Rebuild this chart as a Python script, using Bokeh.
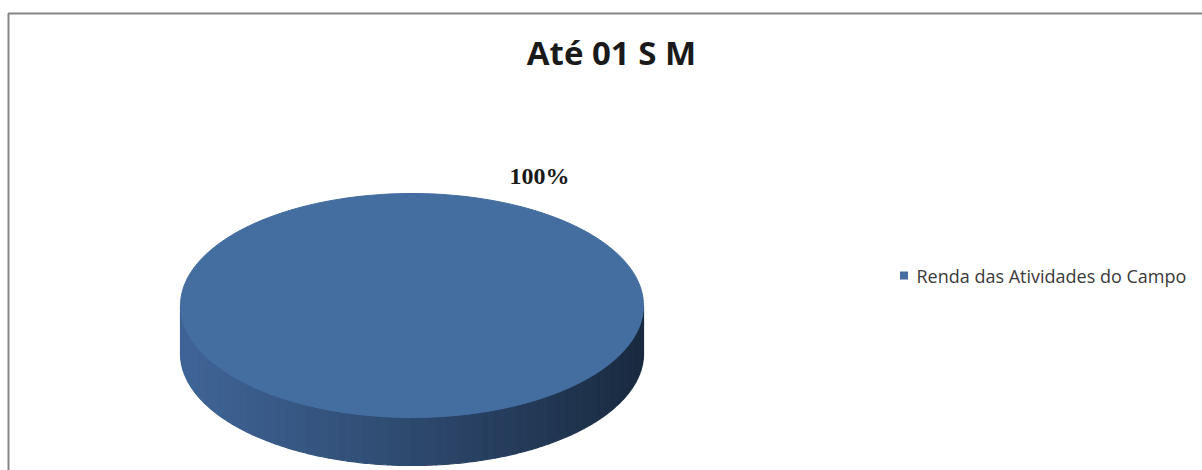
import numpy as np
from bokeh.plotting import figure
from bokeh.models import Range1d
from bokeh.core.properties import value
from bokeh.embed import file_html
from bokeh.resources import INLINE

# ---- data ----
title_text = "Até 01 S M"
categories = ["Renda das Atividades do Campo"]
values = [100]
pct_labels = ["100%"]
colors_top = ["#446DA0"]

W, H = 1202, 470
p = figure(width=W, height=H, x_range=Range1d(0, W), y_range=Range1d(H, 0),
           output_backend="svg", toolbar_location=None, min_border=0)
p.axis.visible = False
p.grid.visible = False
p.outline_line_color = None
p.background_fill_color = "white"
p.border_fill_color = "white"

# chart area border
p.quad(left=[8], right=[1215], top=[13], bottom=[485], fill_color=None,
       line_color="#858585", line_width=2)

# pie geometry (layout)
cx, cy, rx, ry, depth = 411.5, 305.0, 231.5, 112.0, 48.0

def ex(th):
    return cx + rx * np.sin(th)

def ey(th, d=0.0):
    return cy - ry * np.cos(th) + d

total = float(sum(values))
fracs = [v / total for v in values]

def lerp(c1, c2, t):
    a = [int(c1[i:i + 2], 16) for i in (1, 3, 5)]
    b = [int(c2[i:i + 2], 16) for i in (1, 3, 5)]
    return "#%02x%02x%02x" % tuple(int(round(a[k] + (b[k] - a[k]) * t)) for k in range(3))

# side wall (front half) with shading strips
left_c, right_c = "#3F6496", "#192A40"
N = 60
start = 0.0
for i, f in enumerate(fracs):
    a0, a1 = start, start + 2 * np.pi * f
    lo, hi = max(a0, np.pi / 2), min(a1, 3 * np.pi / 2)
    if hi > lo:
        edges = np.linspace(hi, lo, N + 1)
        xs, ys, cs = [], [], []
        for k in range(N):
            t_arc = np.linspace(edges[k], edges[k + 1], 6)
            px = list(ex(t_arc)) + list(ex(t_arc[::-1]))
            py = list(ey(t_arc)) + list(ey(t_arc[::-1], depth))
            xs.append(px); ys.append(py)
            xm = ex((edges[k] + edges[k + 1]) / 2)
            t = (xm - (cx - rx)) / (2 * rx)
            cs.append(lerp(left_c, right_c, min(1, max(0, t ** 1.1))))
        p.patches(xs=xs, ys=ys, fill_color=cs, line_color=cs, line_width=1.2)
    start = a1

# top faces
start = 0.0
for i, f in enumerate(fracs):
    a0, a1 = start, start + 2 * np.pi * f
    th = np.linspace(a0, a1, 241)
    if f < 1:
        px = [cx] + list(ex(th)); py = [cy] + list(ey(th))
    else:
        px = list(ex(th)); py = list(ey(th))
    p.patch(x=px, y=py, fill_color=colors_top[i], line_color=colors_top[i], line_width=1)
    start = a1

# data label
p.text(x=[539], y=[175], text=pct_labels, text_font=value("Liberation Serif"),
       text_font_style="bold", text_font_size="24px", text_color="#1a1a1a",
       text_align="center", text_baseline="middle")

# title
p.text(x=[611], y=[52], text=[title_text], text_font=value("Open Sans"),
       text_font_style="bold", text_font_size="33px", text_color="#1a1a1a",
       text_align="center", text_baseline="middle")

# legend
p.rect(x=[903.5], y=[275], width=8, height=8, fill_color=colors_top[0], line_color=None)
p.text(x=[916], y=[275], text=categories, text_font=value("Open Sans"),
       text_font_size="18px", text_color="#3a3a3a",
       text_align="left", text_baseline="middle")

open("out.html", "w").write(file_html(p, INLINE))
